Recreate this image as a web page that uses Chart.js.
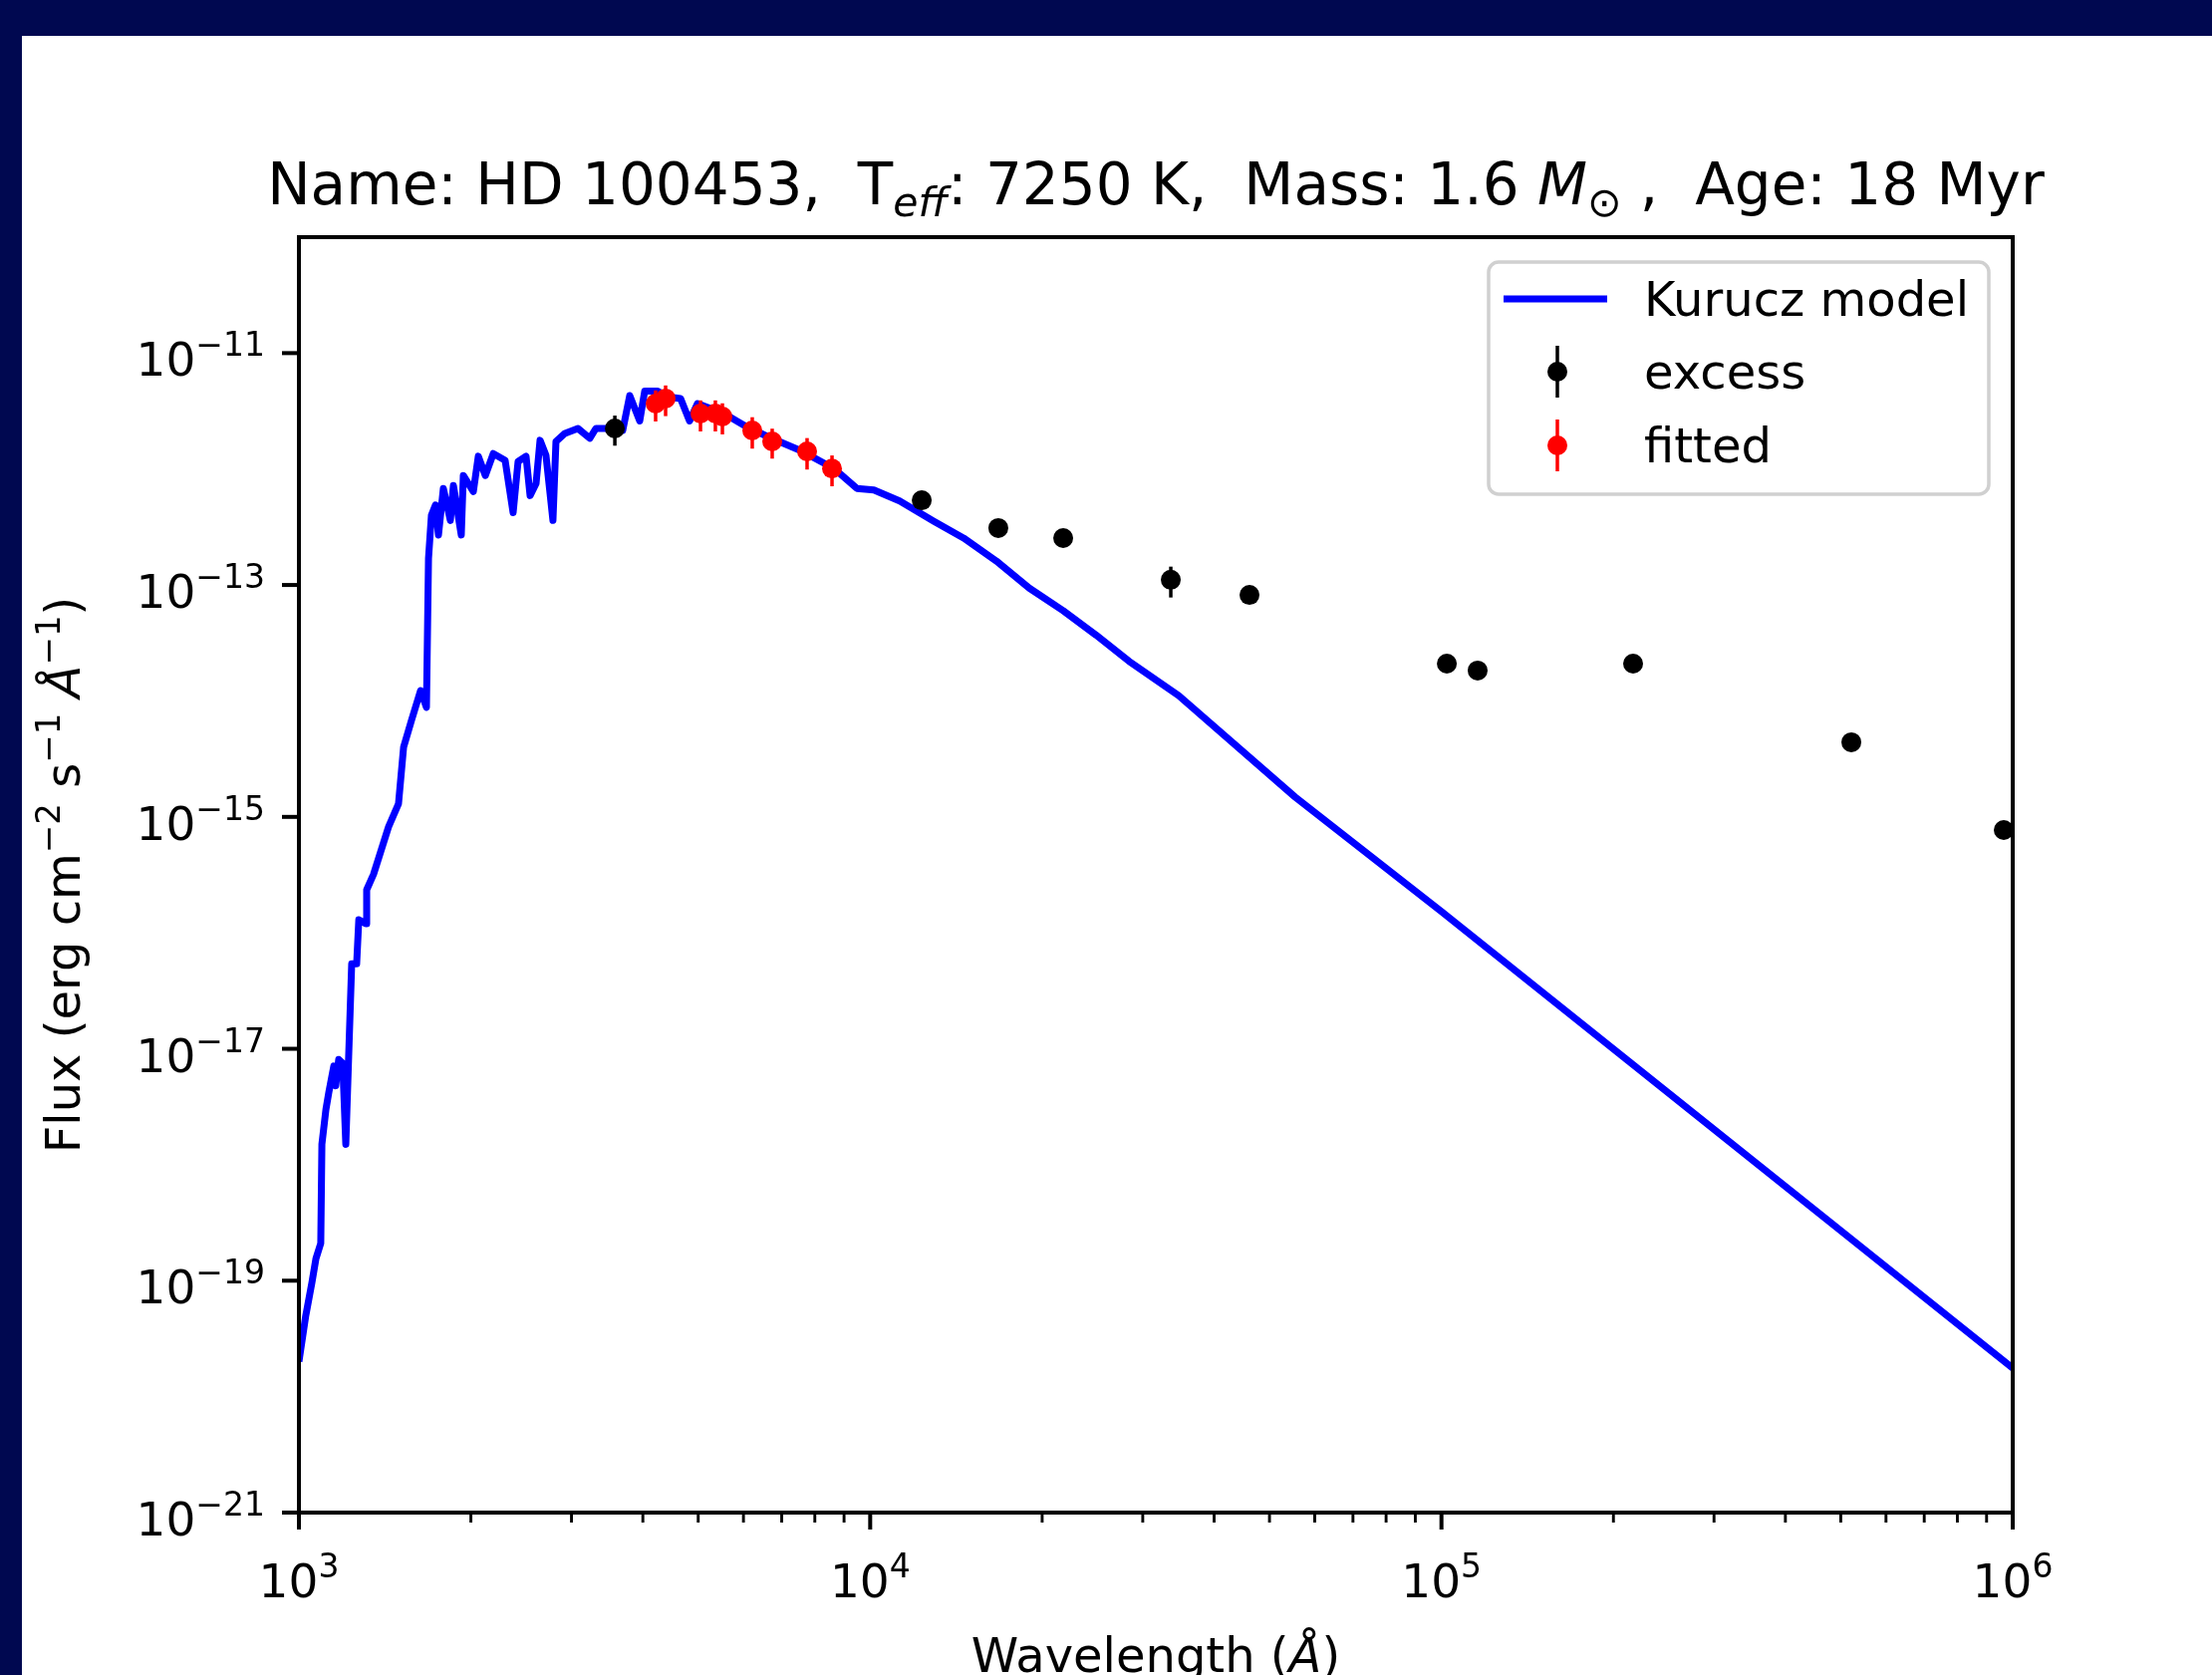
<!DOCTYPE html>
<html>
<head>
<meta charset="utf-8">
<script src="https://cdn.jsdelivr.net/npm/chart.js@4.4.0/dist/chart.umd.min.js"></script>
<style>
  html, body { margin: 0; padding: 0; background: #000850; overflow: hidden; }
  #paper { position: absolute; left: 22px; top: 36px; right: 0; bottom: 0; background: #fff; }
  #sed { position: absolute; left: 0; top: 0; }
</style>
</head>
<body>
<div id="paper"></div>
<canvas id="sed" width="2220" height="1681"></canvas>
<script>
// Kurucz model spectrum (wavelength in Angstrom, flux in erg cm^-2 s^-1 A^-1)
const modelWave = [1000, 1028, 1054, 1071, 1092, 1097, 1115, 1128, 1151, 1160, 1174, 1193, 1208, 1222,
  1237, 1262, 1273, 1309, 1314, 1351, 1435, 1494, 1525, 1574, 1633, 1672, 1686, 1706, 1734, 1755,
  1790, 1841, 1864, 1924, 1940, 2020, 2061, 2120, 2189, 2296, 2371, 2419, 2498, 2539, 2601, 2643,
  2707, 2784, 2818, 2922, 3079, 3230, 3310, 3573, 3688, 3794, 3950, 4030, 4246, 4419, 4656, 4828,
  4985, 5557, 6021, 6603, 7540, 8641, 9478, 10150, 11260, 12910, 14570, 16630, 18990, 21770, 24850,
  28380, 34680, 55470, 100100, 1000000];
const modelFlux = [2.0e-20, 5.0e-20, 9.7e-20, 1.55e-19, 2.1e-19, 1.5e-18, 3.0e-18, 4.2e-18, 7.1e-18, 4.8e-18, 8.1e-18, 7.5e-18, 1.5e-18, 8.6e-18,
  5.4e-17, 5.4e-17, 1.3e-16, 1.2e-16, 2.35e-16, 3.2e-16, 8.2e-16, 1.3e-15, 4.0e-15, 6.8e-15, 1.23e-14, 8.8e-15, 1.7e-13, 4.0e-13, 4.9e-13, 2.7e-13,
  6.8e-13, 3.6e-13, 7.2e-13, 2.7e-13, 8.8e-13, 6.4e-13, 1.29e-12, 8.8e-13, 1.36e-12, 1.19e-12, 4.2e-13, 1.16e-12, 1.29e-12, 5.9e-13, 7.5e-13, 1.77e-12,
  1.31e-12, 3.6e-13, 1.73e-12, 2.03e-12, 2.24e-12, 1.84e-12, 2.24e-12, 2.24e-12, 2.15e-12, 4.3e-12, 2.6e-12, 4.7e-12, 4.7e-12, 4.2e-12, 4.06e-12, 2.6e-12,
  3.67e-12, 3.0e-12, 2.38e-12, 1.91e-12, 1.45e-12, 1.01e-12, 6.8e-13, 6.6e-13, 5.3e-13, 3.56e-13, 2.54e-13, 1.61e-13, 9.4e-14, 6.0e-14, 3.7e-14,
  2.2e-14, 1.11e-14, 1.48e-15, 1.52e-16, 1.76e-20];

// photometry showing infrared excess
const excessWave = [3573, 12310, 16760, 21770, 33590, 46130, 102200, 115700, 216500, 521800, 964500];
const excessFlux = [2.24e-12, 5.38e-13, 3.10e-13, 2.54e-13, 1.11e-13, 8.2e-14, 2.10e-14, 1.83e-14, 2.10e-14, 4.4e-15, 7.7e-16];
const excessErr  = [6.5e-13, 3e-14, 2e-14, 1.5e-14, 3.3e-14, 5e-15, 1e-15, 1e-15, 1.5e-15, 3e-16, 5e-17];

// photometry used for the fit
const fittedWave = [4211, 4384, 5046, 5358, 5512, 6217, 6737, 7754, 8574];
const fittedFlux = [3.67e-12, 4.06e-12, 3.01e-12, 3.01e-12, 2.84e-12, 2.15e-12, 1.73e-12, 1.42e-12, 1.01e-12];
const fittedErr  = [1.1e-12, 1.2e-12, 0.9e-12, 0.9e-12, 0.85e-12, 0.65e-12, 0.5e-12, 0.43e-12, 0.3e-12];

// axes
const xMajorTicks = [1e3, 1e4, 1e5, 1e6];
const xTickExp = ['3', '4', '5', '6'];
const xMinorTicks = [2e3, 3e3, 4e3, 5e3, 6e3, 7e3, 8e3, 9e3, 2e4, 3e4, 4e4, 5e4, 6e4, 7e4, 8e4, 9e4,
  2e5, 3e5, 4e5, 5e5, 6e5, 7e5, 8e5, 9e5];
const yMajorTicks = [1e-21, 1e-19, 1e-17, 1e-15, 1e-13, 1e-11];
const yTickExp = ['\u221221', '\u221219', '\u221217', '\u221215', '\u221213', '\u221211'];

const FONT = '"DejaVu Sans"';
const reg = s => s + 'px ' + FONT;
const ita = s => 'italic ' + s + 'px ' + FONT;

const toPoints = (xs, ys) => xs.map((v, i) => ({ x: v, y: ys[i] }));

function runsWidth(ctx, runs) {
    let w = 0;
    runs.forEach(r => { ctx.font = r.font; w += ctx.measureText(r.t).width; });
    return w;
}

function drawRuns(ctx, runs, x, y, align) {
    const w = runsWidth(ctx, runs);
    let cx = align === 'center' ? x - w / 2 : (align === 'right' ? x - w : x);
    runs.forEach(r => {
        ctx.font = r.font;
        ctx.fillText(r.t, cx, y + (r.dy || 0));
        cx += ctx.measureText(r.t).width;
    });
}

const powRuns = exp => [{ t: '10', font: reg(47) }, { t: exp, font: reg(33), dy: -20 }];

// error bars are drawn just before their markers, like matplotlib's errorbar
const errorBars = {
    id: 'errorBars',
    beforeDatasetDraw(chart, args) {
        const ds = chart.data.datasets[args.index];
        if (!ds.errors) return;
        const { ctx, chartArea: a, scales: { x, y } } = chart;
        ctx.save();
        ctx.beginPath();
        ctx.rect(a.left, a.top, a.right - a.left, a.bottom - a.top);
        ctx.clip();
        ctx.strokeStyle = ds.backgroundColor;
        ctx.lineWidth = 3.5;
        ds.data.forEach((p, i) => {
            const px = x.getPixelForValue(p.x);
            const e = ds.errors[i];
            const lo = Math.max(p.y - e, y.min);
            ctx.beginPath();
            ctx.moveTo(px, y.getPixelForValue(p.y + e));
            ctx.lineTo(px, y.getPixelForValue(lo));
            ctx.stroke();
        });
        ctx.restore();
    }
};

// spines, ticks, labels, title and legend in matplotlib style
const decorations = {
    id: 'decorations',
    afterDraw(chart) {
        const { ctx, chartArea: a, scales: { x, y } } = chart;
        ctx.save();
        ctx.strokeStyle = '#000';
        ctx.fillStyle = '#000';
        ctx.lineWidth = 4;
        ctx.strokeRect(a.left, a.top, a.right - a.left, a.bottom - a.top);

        ctx.lineCap = 'butt';
        xMajorTicks.forEach(v => {
            const px = x.getPixelForValue(v);
            ctx.beginPath(); ctx.moveTo(px, a.bottom); ctx.lineTo(px, a.bottom + 17); ctx.stroke();
        });
        yMajorTicks.forEach(v => {
            const py = y.getPixelForValue(v);
            ctx.beginPath(); ctx.moveTo(a.left - 17, py); ctx.lineTo(a.left, py); ctx.stroke();
        });
        ctx.lineWidth = 2.9;
        xMinorTicks.forEach(v => {
            const px = x.getPixelForValue(v);
            ctx.beginPath(); ctx.moveTo(px, a.bottom); ctx.lineTo(px, a.bottom + 10); ctx.stroke();
        });

        ctx.textAlign = 'left';
        ctx.textBaseline = 'alphabetic';
        xMajorTicks.forEach((v, i) => {
            drawRuns(ctx, powRuns(xTickExp[i]), x.getPixelForValue(v), a.bottom + 85, 'center');
        });
        yMajorTicks.forEach((v, i) => {
            drawRuns(ctx, powRuns(yTickExp[i]), a.left - 34, y.getPixelForValue(v) + 23, 'right');
        });

        // title
        drawRuns(ctx, [
            { t: 'Name: HD 100453,  T', font: reg(58) },
            { t: 'eff', font: ita(41), dy: 12 },
            { t: ': 7250 K,  Mass: 1.6 ', font: reg(58) },
            { t: 'M', font: ita(58) },
            { t: '\u2299', font: reg(41), dy: 12 },
            { t: ' ,  Age: 18 Myr', font: reg(58) }
        ], (a.left + a.right) / 2, 205, 'center');

        // axis labels
        drawRuns(ctx, [
            { t: 'Wavelength (', font: reg(48) },
            { t: '\u00c5', font: ita(48) },
            { t: ')', font: reg(48) }
        ], (a.left + a.right) / 2, 1678, 'center');

        ctx.save();
        ctx.translate(80, (a.top + a.bottom) / 2);
        ctx.rotate(-Math.PI / 2);
        drawRuns(ctx, [
            { t: 'Flux (erg cm', font: reg(48) },
            { t: '\u22122', font: reg(34), dy: -20 },
            { t: ' s', font: reg(48) },
            { t: '\u22121', font: reg(34), dy: -20 },
            { t: ' ', font: reg(48) },
            { t: '\u00c5', font: ita(48) },
            { t: '\u22121', font: reg(34), dy: -20 },
            { t: ')', font: reg(48) }
        ], 0, 0, 'center');
        ctx.restore();

        // legend
        const lx = 1494, ly = 263, lw = 502, lh = 233;
        ctx.beginPath();
        ctx.roundRect(lx, ly, lw, lh, 10);
        ctx.fillStyle = 'rgba(255,255,255,0.8)';
        ctx.fill();
        ctx.strokeStyle = '#d0d0d0';
        ctx.lineWidth = 3.5;
        ctx.stroke();

        const rows = [300, 373, 447];
        const hx = 1563;
        chart.data.datasets.forEach((ds, i) => {
            const cy = rows[i];
            if (ds.showLine) {
                ctx.strokeStyle = ds.borderColor;
                ctx.lineWidth = ds.borderWidth;
                ctx.beginPath(); ctx.moveTo(hx - 54, cy); ctx.lineTo(hx + 50, cy); ctx.stroke();
            } else {
                ctx.strokeStyle = ds.backgroundColor;
                ctx.fillStyle = ds.backgroundColor;
                ctx.lineWidth = 3.5;
                ctx.beginPath(); ctx.moveTo(hx, cy - 26); ctx.lineTo(hx, cy + 26); ctx.stroke();
                ctx.beginPath(); ctx.arc(hx, cy, ds.pointRadius, 0, Math.PI * 2); ctx.fill();
            }
            ctx.fillStyle = '#000';
            ctx.font = reg(48);
            ctx.fillText(ds.label, 1650, cy + 17);
        });
        ctx.restore();
    }
};

new Chart(document.getElementById('sed'), {
    type: 'scatter',
    data: {
        datasets: [
            {
                label: 'Kurucz model',
                data: toPoints(modelWave, modelFlux),
                showLine: true,
                borderColor: '#0000ff',
                backgroundColor: '#0000ff',
                borderWidth: 7,
                borderJoinStyle: 'round',
                pointRadius: 0,
                tension: 0,
                clip: 0,
                order: 3
            },
            {
                label: 'excess',
                data: toPoints(excessWave, excessFlux),
                errors: excessErr,
                showLine: false,
                backgroundColor: '#000000',
                borderWidth: 0,
                pointRadius: 10,
                clip: 0,
                order: 2
            },
            {
                label: 'fitted',
                data: toPoints(fittedWave, fittedFlux),
                errors: fittedErr,
                showLine: false,
                backgroundColor: '#ff0000',
                borderWidth: 0,
                pointRadius: 10,
                clip: 0,
                order: 1
            }
        ]
    },
    options: {
        responsive: false,
        animation: false,
        devicePixelRatio: 1,
        layout: { padding: { top: 238, right: 200, left: 0, bottom: 0 } },
        plugins: {
            legend: { display: false },
            tooltip: { enabled: false },
            title: { display: false }
        },
        scales: {
            x: {
                type: 'logarithmic',
                min: 1e3,
                max: 1e6,
                grid: { display: false },
                border: { display: false },
                ticks: { display: false },
                afterFit: s => { s.height = 163; }
            },
            y: {
                type: 'logarithmic',
                min: 1e-21,
                max: 1e-10,
                grid: { display: false },
                border: { display: false },
                ticks: { display: false },
                afterFit: s => { s.width = 300; }
            }
        }
    },
    plugins: [errorBars, decorations]
});
</script>
</body>
</html>
